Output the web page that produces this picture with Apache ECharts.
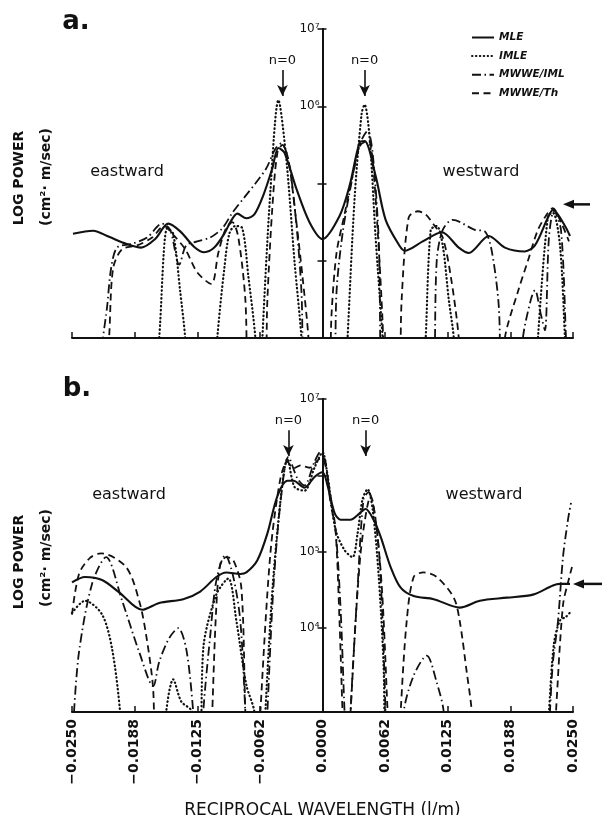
<!DOCTYPE html>
<html><head><meta charset="utf-8">
<script src="https://cdn.jsdelivr.net/npm/echarts@6/dist/echarts.min.js"></script>
<style>html,body{margin:0;padding:0;background:#fff}#c{width:602px;height:815px}</style>
</head><body><div id="c"></div>
<script>
const seriesNames = ['MLE', 'IMLE', 'MWWE/IML', 'MWWE/Th'];
const xTickLabels = ['\u22120.0250', '\u22120.0188', '\u22120.0125', '\u22120.0062', '0.0000', '0.0062', '0.0125', '0.0188', '0.0250'];
const yTickValues = [1e4, 1e5, 1e6, 1e7];
const aYLabelValues = [1e6, 1e7];
const bYLabelValues = [1e4, 1e5, 1e7];

// Panel a
const aMLE = [[-0.0249,22400],[-0.0229,24500],[-0.0213,20400],[-0.0196,16600],[-0.0181,14800],[-0.0167,19100],[-0.0154,30200],[-0.0142,24000],[-0.0128,15100],[-0.0118,12900],[-0.0108,14800],[-0.0098,22400],[-0.0092,31600],[-0.0085,40700],[-0.0076,35500],[-0.0068,39800],[-0.0059,70800],[-0.0050,158000],[-0.0044,288000],[-0.0038,251000],[-0.0026,85100],[-0.0013,31600],[0,19100],[0.0017,38000],[0.0027,93300],[0.0037,339000],[0.0042,355000],[0.0053,126000],[0.0063,33900],[0.0077,15500],[0.0082,13500],[0.0100,17800],[0.0119,23400],[0.0136,14800],[0.0146,12600],[0.0166,20900],[0.0182,14800],[0.0202,13200],[0.0212,15800],[0.0225,36300],[0.0230,45700],[0.0242,28200],[0.0247,20900]];
const aIMLE = [[-0.0170,100],[-0.0163,1000],[-0.0155,26300],[-0.0149,22400],[-0.0142,3980],[-0.0137,1000],[-0.0132,100],[-0.0110,100],[-0.0105,1000],[-0.0098,7940],[-0.0093,22400],[-0.0087,28200],[-0.0080,26300],[-0.0074,6310],[-0.0067,1000],[-0.0063,100],[-0.0060,1000],[-0.0052,79400],[-0.0044,1200000],[-0.0036,200000],[-0.0028,10000],[-0.0021,1000],[-0.0017,100],[0.0021,100],[0.0025,1000],[0.0032,63100],[0.0039,794000],[0.0042,1050000],[0.0047,398000],[0.0053,20000],[0.0060,1000],[0.0064,100],[0.0099,100],[0.0103,1000],[0.0108,25100],[0.0114,28200],[0.0120,15800],[0.0126,3160],[0.0131,1000],[0.0135,100],[0.0211,100],[0.0215,1000],[0.0225,38000],[0.0230,41700],[0.0237,15800],[0.0242,1000],[0.0246,100]];
const aIML = [[-0.0226,100],[-0.0219,1000],[-0.0215,2510],[-0.0211,7940],[-0.0205,14800],[-0.0190,16600],[-0.0175,20000],[-0.0160,30200],[-0.0152,25100],[-0.0143,8910],[-0.0136,15800],[-0.0125,17800],[-0.0112,20000],[-0.0100,26300],[-0.0090,41700],[-0.0078,66100],[-0.0067,100000],[-0.0056,158000],[-0.0047,282000],[-0.0041,331000],[-0.0034,200000],[-0.0027,39800],[-0.0021,3980],[-0.0017,100],[0.0010,100],[0.0014,3980],[0.0020,22400],[0.0028,89100],[0.0037,316000],[0.0045,479000],[0.0050,251000],[0.0056,20000],[0.0062,100],[0.0108,100],[0.0114,10000],[0.0120,25100],[0.0130,33900],[0.0152,25100],[0.0162,24000],[0.0169,13200],[0.0176,2510],[0.0180,100],[0.0195,100],[0.0200,1000],[0.0208,3160],[0.0212,4170],[0.0218,2000],[0.0222,1260],[0.0226,20000],[0.0231,44700],[0.0238,25100],[0.0243,1000],[0.0246,100]];
const aTh = [[-0.0219,100],[-0.0213,1000],[-0.0209,7940],[-0.0200,14100],[-0.0185,15800],[-0.0170,20000],[-0.0158,28200],[-0.0150,22400],[-0.0137,14100],[-0.0125,7080],[-0.0111,5010],[-0.0104,12600],[-0.0097,25100],[-0.0090,31600],[-0.0084,20000],[-0.0077,3160],[-0.0072,100],[-0.0059,100],[-0.0055,3160],[-0.0050,50100],[-0.0045,251000],[-0.0040,316000],[-0.0034,200000],[-0.0027,39800],[-0.0020,6310],[-0.0014,1000],[-0.0010,100],[0.0005,100],[0.0009,2000],[0.0014,12600],[0.0022,39800],[0.0030,126000],[0.0038,316000],[0.0046,355000],[0.0050,200000],[0.0055,25100],[0.0060,1590],[0.0063,100],[0.0075,100],[0.0079,3160],[0.0086,36300],[0.0095,43700],[0.0103,39800],[0.0112,28200],[0.0120,20000],[0.0128,6310],[0.0136,1000],[0.0140,100],[0.0176,100],[0.0182,1000],[0.0195,3980],[0.0205,10000],[0.0215,25100],[0.0225,41700],[0.0230,47900],[0.0238,31600],[0.0246,17800]];

// Panel b
const bMLE = [[-0.0250,39800],[-0.0237,46800],[-0.0220,42700],[-0.0203,29500],[-0.0180,17400],[-0.0163,21400],[-0.0139,24000],[-0.0122,30200],[-0.0106,46800],[-0.0096,53700],[-0.0082,51300],[-0.0076,53700],[-0.0065,77600],[-0.0055,174000],[-0.0045,537000],[-0.0035,851000],[-0.0029,851000],[-0.0018,692000],[-0.0008,955000],[0,1100000],[0.0005,741000],[0.0012,324000],[0.0018,263000],[0.0028,263000],[0.0035,302000],[0.0043,363000],[0.0051,263000],[0.0058,158000],[0.0068,63100],[0.0078,33900],[0.0091,26300],[0.0111,24000],[0.0137,18600],[0.0157,22900],[0.0184,25100],[0.0210,27500],[0.0230,36300],[0.0237,38000],[0.0247,38000]];
const bIMLE = [[-0.0250,15800],[-0.0237,22900],[-0.0220,15100],[-0.0210,5370],[-0.0202,800],[-0.0198,100],[-0.0160,100],[-0.0156,800],[-0.0149,2140],[-0.0141,1100],[-0.0130,800],[-0.0126,100],[-0.0122,100],[-0.0119,5370],[-0.0106,27500],[-0.0094,44700],[-0.0086,12600],[-0.0076,1800],[-0.0068,800],[-0.0065,100],[-0.0060,100],[-0.0057,800],[-0.0050,31600],[-0.0041,603000],[-0.0035,1660000],[-0.0028,708000],[-0.0018,631000],[-0.0008,1260000],[0,2000000],[0.0005,1000000],[0.0013,195000],[0.0022,105000],[0.0030,85100],[0.0035,174000],[0.0040,490000],[0.0045,661000],[0.0050,363000],[0.0056,50100],[0.0061,3160],[0.0064,100],[0.0222,100],[0.0226,800],[0.0231,6310],[0.0237,12600],[0.0243,14100],[0.0248,16600]];
const bIML = [[-0.0248,800],[-0.0243,4900],[-0.0230,38000],[-0.0216,85100],[-0.0200,22900],[-0.0183,4900],[-0.0169,1740],[-0.0163,3630],[-0.0153,7410],[-0.0144,10000],[-0.0136,5370],[-0.0129,800],[-0.0125,100],[-0.0122,100],[-0.0119,800],[-0.0112,8130],[-0.0106,41700],[-0.0097,91200],[-0.0089,46800],[-0.0082,12300],[-0.0077,800],[-0.0074,100],[-0.0058,100],[-0.0055,800],[-0.0049,33900],[-0.0042,437000],[-0.0034,1740000],[-0.0025,912000],[-0.0018,741000],[-0.0008,1510000],[-0.0002,2040000],[0.0003,1500000],[0.0008,437000],[0.0013,195000],[0.0018,18600],[0.0022,800],[0.0025,100],[0.0026,100],[0.0028,800],[0.0035,33900],[0.0041,490000],[0.0046,603000],[0.0055,158000],[0.0060,12300],[0.0063,800],[0.0066,100],[0.0078,100],[0.0081,800],[0.0091,2400],[0.0104,4370],[0.0114,1950],[0.0121,800],[0.0124,100],[0.0224,100],[0.0227,800],[0.0230,3630],[0.0235,12300],[0.0240,85100],[0.0245,263000],[0.0248,437000]];
const bTh = [[-0.0250,15100],[-0.0243,51300],[-0.0232,83200],[-0.0221,95500],[-0.0196,63100],[-0.0183,22900],[-0.0176,8130],[-0.0169,1580],[-0.0166,100],[-0.0112,100],[-0.0110,800],[-0.0106,18600],[-0.0102,69200],[-0.0096,85100],[-0.0089,77600],[-0.0081,33900],[-0.0077,800],[-0.0074,100],[-0.0065,100],[-0.0062,800],[-0.0052,95500],[-0.0042,912000],[-0.0035,1510000],[-0.0029,1230000],[-0.0022,1350000],[-0.0013,1260000],[-0.0002,1660000],[0.0002,1510000],[0.0008,537000],[0.0013,195000],[0.0017,12300],[0.0020,800],[0.0023,100],[0.0025,100],[0.0028,800],[0.0038,95500],[0.0048,537000],[0.0058,57500],[0.0065,800],[0.0068,100],[0.0075,100],[0.0078,800],[0.0084,12300],[0.0091,46800],[0.0101,53700],[0.0114,46800],[0.0131,25100],[0.0137,12300],[0.0144,2630],[0.0149,800],[0.0152,100],[0.0229,100],[0.0233,800],[0.0240,20000],[0.0246,44700],[0.0249,63100]];

// annotation values
const aArrowX = [-0.0040, 0.0042];
const aArrowFrom = 2.94e6, aArrowTo = 1.36e6;
const bArrowX = [-0.0034, 0.0043];
const bArrowFrom = 3.9e6, bArrowTo = 1.8e6;
const aLevelArrow = [0.0240, 0.0267, 53700];
const bLevelArrow = [0.0250, 0.0279, 38000];

const INK = '#111';
const FONT = 'DejaVu Sans';
const GRID_W = 501;
const lineStyles = {
  'MLE': {width: 2.1, type: 'solid'},
  'IMLE': {width: 2.2, type: [0.5, 3.4], cap: 'round'},
  'MWWE/IML': {width: 1.8, type: [9, 3.5, 1.5, 3.5]},
  'MWWE/Th': {width: 1.8, type: [7, 4.5]}
};
const sup = {'4': '\u2074', '5': '\u2075', '6': '\u2076', '7': '\u2077'};
function yFmt(v) { const e = Math.round(Math.log10(v)); return '10' + sup[String(e)]; }

function mk(name, data, gi) {
  const ls = Object.assign({color: INK}, lineStyles[name]);
  return {name: name, type: 'line', xAxisIndex: gi, yAxisIndex: gi * 2, data: data,
    smooth: 0.3, symbol: 'none', showSymbol: false, clip: true, lineStyle: ls,
    itemStyle: {color: INK}, emphasis: {disabled: true}, animation: false};
}
function arrowMarks(xs, from, to) {
  return {silent: true, symbol: ['none', 'arrow'], symbolSize: [8, 11], animation: false,
    lineStyle: {color: INK, width: 1.6, type: 'solid'},
    label: {show: true, position: 'start', formatter: 'n=0', color: INK, fontSize: 13, fontFamily: FONT, distance: 3},
    data: xs.map(x => [{coord: [x, from]}, {coord: [x, to]}])};
}
function xAxis(gi, withLabels) {
  return {type: 'value', gridIndex: gi, min: -0.025, max: 0.025, interval: 0.00625,
    axisLine: {onZero: false, lineStyle: {color: INK, width: 2}},
    axisTick: {inside: true, length: 6, lineStyle: {color: INK, width: 1.5}},
    splitLine: {show: false},
    axisLabel: withLabels ? {show: true, rotate: 90, margin: 7, color: INK, fontSize: 14, fontWeight: 'bold', fontFamily: FONT,
      formatter: v => xTickLabels[Math.round((v + 0.025) / 0.00625)]} : {show: false},
    name: withLabels ? 'RECIPROCAL WAVELENGTH (l/m)' : '', nameLocation: 'middle', nameGap: 90,
    nameTextStyle: {color: INK, fontSize: 17, fontFamily: FONT}};
}
function yAxes(gi, min, labelVals) {
  const base = {type: 'log', logBase: 10, gridIndex: gi, min: min, max: 1e7, position: 'left', offset: -GRID_W / 2,
    axisLine: {onZero: false, lineStyle: {color: INK, width: 2}}, splitLine: {show: false}};
  return [
    Object.assign({}, base, {axisTick: {customValues: yTickValues, length: 5, lineStyle: {color: INK, width: 1.5}},
      axisLabel: {customValues: labelVals, formatter: yFmt, color: INK, fontSize: 12, fontFamily: FONT, margin: 3}}),
    Object.assign({}, base, {axisTick: {customValues: yTickValues, inside: true, length: 4, lineStyle: {color: INK, width: 1.5}},
      axisLabel: {show: false}})
  ];
}

const chart = echarts.init(document.getElementById('c'), null, {renderer: 'canvas'});
const sa = [mk('MLE', aMLE, 0), mk('IMLE', aIMLE, 0), mk('MWWE/IML', aIML, 0), mk('MWWE/Th', aTh, 0)];
const sb = [mk('MLE', bMLE, 1), mk('IMLE', bIMLE, 1), mk('MWWE/IML', bIML, 1), mk('MWWE/Th', bTh, 1)];
sa[0].markLine = arrowMarks(aArrowX, aArrowFrom, aArrowTo);
sb[0].markLine = arrowMarks(bArrowX, bArrowFrom, bArrowTo);

chart.setOption({
  animation: false,
  backgroundColor: '#fff',
  textStyle: {fontFamily: FONT, color: INK},
  grid: [
    {left: 72, top: 29, width: GRID_W, height: 309, containLabel: false, outerBoundsMode: 'none'},
    {left: 72, top: 399, width: GRID_W, height: 313, containLabel: false, outerBoundsMode: 'none'}
  ],
  xAxis: [xAxis(0, false), xAxis(1, true)],
  yAxis: yAxes(0, 1000, aYLabelValues).concat(yAxes(1, 800, bYLabelValues)),
  legend: {data: seriesNames, orient: 'vertical', left: 466, top: 27, itemWidth: 22, itemHeight: 10, itemGap: 7.6,
    selectedMode: false, itemStyle: {color: 'rgba(0,0,0,0)', borderColor: 'rgba(0,0,0,0)', borderWidth: 0},
    textStyle: {color: INK, fontSize: 10.5, fontWeight: 'bold', fontStyle: 'italic', fontFamily: FONT}},
  series: sa.concat(sb)
});

function levelArrow(gi, spec) {
  const tip = chart.convertToPixel({xAxisIndex: gi, yAxisIndex: gi * 2}, [spec[0], spec[2]]);
  const tail = chart.convertToPixel({xAxisIndex: gi, yAxisIndex: gi * 2}, [spec[1], spec[2]]);
  return {type: 'group', children: [
    {type: 'line', shape: {x1: tip[0] + 8, y1: tip[1], x2: tail[0], y2: tail[1]}, style: {stroke: INK, lineWidth: 2.5}},
    {type: 'polygon', shape: {points: [[tip[0], tip[1]], [tip[0] + 11, tip[1] - 4.5], [tip[0] + 11, tip[1] + 4.5]]}, style: {fill: INK}}
  ]};
}
function txt(x, y, t, size, weight, rot) {
  return {type: 'text', x: x, y: y, rotation: rot || 0,
    style: {text: t, fill: INK, font: (weight || 'normal') + ' ' + size + 'px "DejaVu Sans"', align: 'center', verticalAlign: 'middle'}};
}
chart.setOption({graphic: [
  txt(76, 22, 'a.', 26, 'bold'),
  txt(77, 389, 'b.', 26, 'bold'),
  txt(127, 172, 'eastward', 16),
  txt(481, 172, 'westward', 16),
  txt(129, 495, 'eastward', 16),
  txt(484, 495, 'westward', 16),
  txt(19, 178, 'LOG POWER', 14, 'bold', Math.PI / 2),
  txt(46, 177, '(cm\u00b2\u00b7 m/sec)', 14, 'bold', Math.PI / 2),
  txt(19, 562, 'LOG POWER', 14, 'bold', Math.PI / 2),
  txt(46, 558, '(cm\u00b2\u00b7 m/sec)', 14, 'bold', Math.PI / 2),
  levelArrow(0, aLevelArrow),
  levelArrow(1, bLevelArrow)
]});
</script></body></html>
